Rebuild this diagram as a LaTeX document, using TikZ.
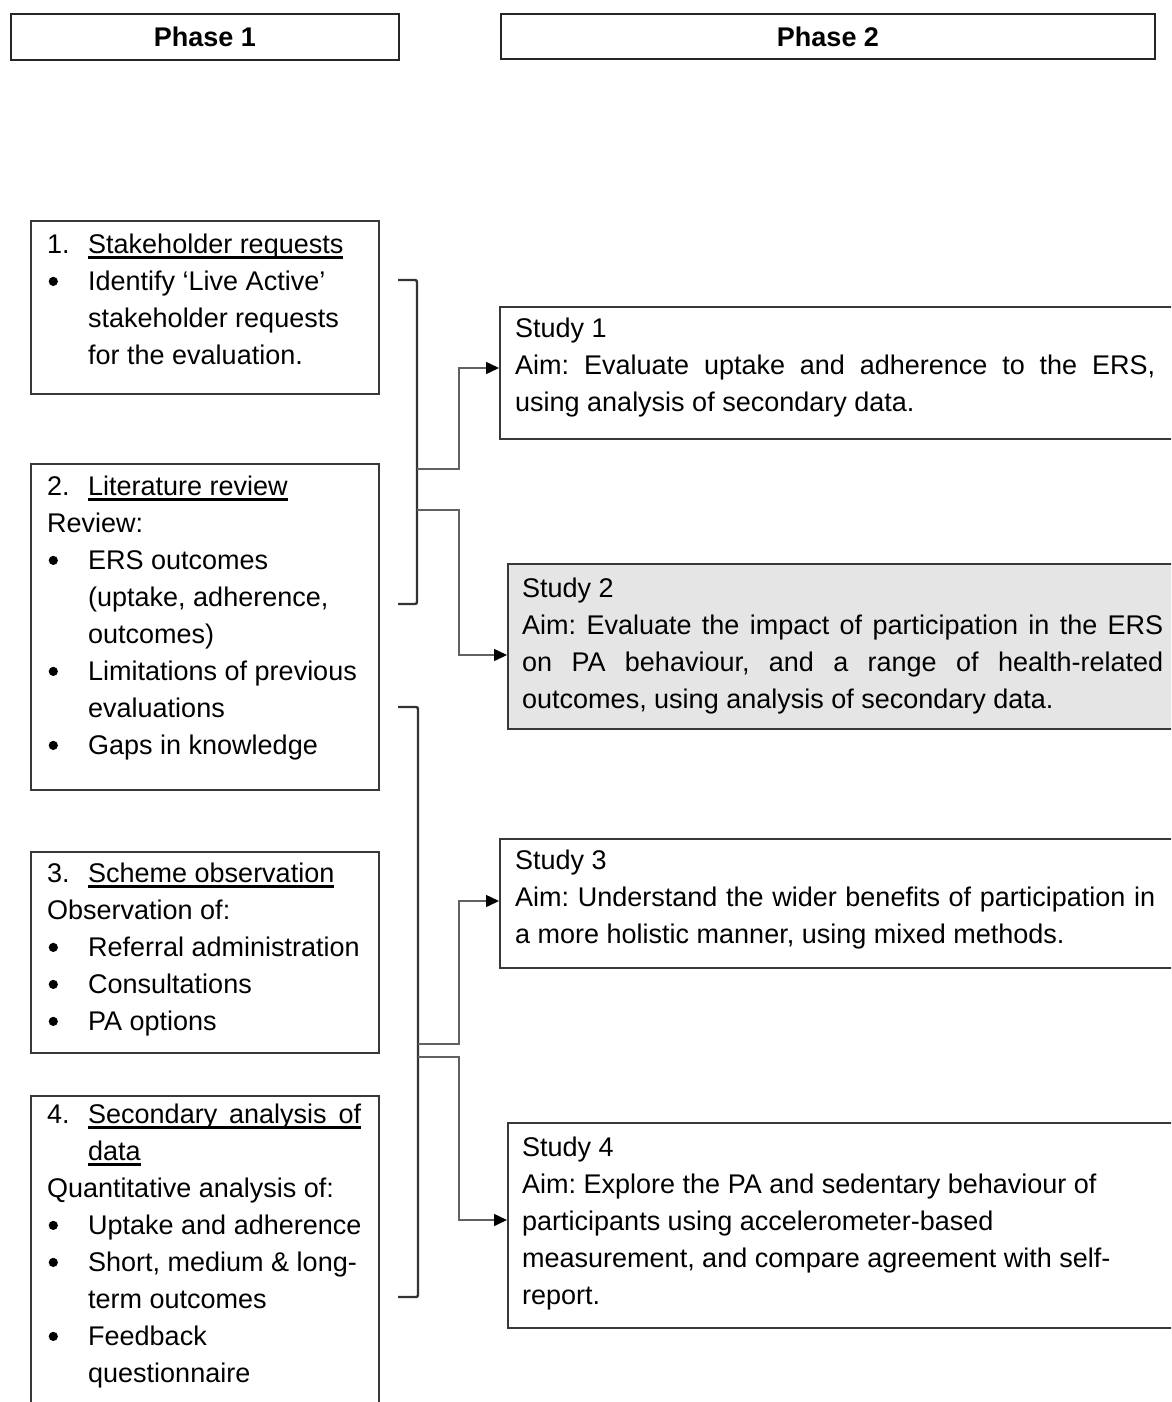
\documentclass[tikz,border=0pt]{standalone}
\usepackage{fontspec}
\setmainfont{Liberation Sans}
\usetikzlibrary{arrows.meta}
\hyphenpenalty=10000
\exhyphenpenalty=10000
\frenchspacing
\newsavebox\ulbox
\newcommand\ulx[1]{\sbox\ulbox{#1}\rlap{\rule[-5.5pt]{\wd\ulbox}{2.4pt}}\usebox\ulbox}
\newcommand\itm[2]{\par\hangindent=41pt\hangafter=1\noindent\makebox[41pt][l]{#1}#2\par}
\newcommand\bul{\hspace*{1.5pt}\raisebox{4pt}{\tikz[x=1pt,y=1pt]\fill (0,0) circle[radius=4.6pt];}}
\begin{document}
\begin{tikzpicture}[x=1pt,y=1pt,
  box/.style={draw=black!78, line width=1.8pt, rectangle, inner sep=0pt, anchor=north west},
  phase/.style={box, draw=black!85, line width=2pt},
  conn/.style={draw=black!62, line width=1.5pt},
  brk/.style={draw=black!80, line width=2.4pt, rounded corners=2pt},
  arr/.style={-{Triangle[length=13pt,width=12pt,color=black]}},
  txt/.style={anchor=base west, inner sep=0pt, font=\fontsize{27}{37}\selectfont},
  ptxt/.style={inner sep=0pt, font=\fontsize{27}{32}\selectfont\bfseries}]
\useasboundingbox (0,0) rectangle (1171,-1402);
\clip (0,0) rectangle (1171,-1402);
\fill[white] (0,0) rectangle (1171,-1402);

% phase headers
\node[phase, minimum width=388pt, minimum height=46pt] (ph1) at (10,-13) {};
\node[phase, minimum width=654pt, minimum height=45pt] (ph2) at (500,-13) {};
\node[ptxt] (ph1t) at (ph1.center) {Phase 1};
\node[ptxt] (ph2t) at (ph2.center) {Phase 2};

% phase 1 boxes
\node[box, minimum width=348pt, minimum height=173pt] (b1) at (30,-220) {};
\node[box, minimum width=348pt, minimum height=326pt] (b2) at (30,-463) {};
\node[box, minimum width=348pt, minimum height=201pt] (b3) at (30,-851) {};
\node[box, minimum width=348pt, minimum height=340pt] (b4) at (30,-1095) {};

\node[txt] (t1) at (47,-253) {\begin{minipage}[t]{325pt}\raggedright
\itm{1.}{\ulx{Stakeholder requests}}
\itm{\bul}{Identify ‘Live Active’\newline stakeholder requests\newline for the evaluation.}
\end{minipage}};

\node[txt] (t2) at (47,-495) {\begin{minipage}[t]{325pt}\raggedright
\itm{2.}{\ulx{Literature review}}
Review:\par
\itm{\bul}{ERS outcomes\newline (uptake, adherence,\newline outcomes)}
\itm{\bul}{Limitations of previous\newline evaluations}
\itm{\bul}{Gaps in knowledge}
\end{minipage}};

\node[txt] (t3) at (47,-882) {\begin{minipage}[t]{325pt}\raggedright
\itm{3.}{\ulx{Scheme observation}}
Observation of:\par
\itm{\bul}{Referral administration}
\itm{\bul}{Consultations}
\itm{\bul}{PA options}
\end{minipage}};

\node[txt] (t4) at (47,-1123) {\begin{minipage}[t]{325pt}\raggedright
\itm{4.}{\ulx{\makebox[273pt][s]{Secondary analysis of}}\newline \ulx{data}}
Quantitative analysis of:\par
\itm{\bul}{Uptake and adherence}
\itm{\bul}{Short, medium \& long-\newline term outcomes}
\itm{\bul}{Feedback\newline questionnaire}
\end{minipage}};

% phase 2 boxes
\node[box, minimum width=700pt, minimum height=132pt] (s1) at (499,-306) {};
\node[box, fill=black!10, minimum width=700pt, minimum height=165pt] (s2) at (507,-563) {};
\node[box, minimum width=700pt, minimum height=129pt] (s3) at (499,-838) {};
\node[box, minimum width=700pt, minimum height=205pt] (s4) at (507,-1122) {};

\node[txt] (u1) at (515,-337) {\begin{minipage}[t]{640pt}
Study 1\newline Aim: Evaluate uptake and adherence to the ERS,\linebreak using analysis of secondary data.
\end{minipage}};

\node[txt] (u2) at (522,-597) {\begin{minipage}[t]{641pt}
Study 2\newline Aim: Evaluate the impact of participation in the ERS\linebreak on PA behaviour, and a range of health-related\linebreak outcomes, using analysis of secondary data.
\end{minipage}};

\node[txt] (u3) at (515,-869) {\begin{minipage}[t]{640pt}
Study 3\newline Aim: Understand the wider benefits of participation in\linebreak a more holistic manner, using mixed methods.
\end{minipage}};

\node[txt] (u4) at (522,-1156) {\begin{minipage}[t]{640pt}\raggedright
Study 4\newline Aim: Explore the PA and sedentary behaviour of\newline participants using accelerometer-based\newline measurement, and compare agreement with self-\newline report.
\end{minipage}};

% brackets
\coordinate (k1t) at (398,-280);
\coordinate (k1b) at (398,-604);
\coordinate (k2t) at (398,-707);
\coordinate (k2b) at (398,-1297);
\draw[brk] (k1t) -- ++(19,0) |- (k1b);
\draw[brk] (k2t) -- ++(20,0) |- (k2b);

% connectors
\coordinate (j1) at (417,-469);
\coordinate (j2) at (417,-510);
\coordinate (j3) at (418,-1044);
\coordinate (j4) at (418,-1057);
\draw[conn,arr] (j1) -- ++(42,0) |- (s1.west |- 0,-368);
\draw[conn,arr] (j2) -- ++(42,0) |- (s2.west |- 0,-655);
\draw[conn,arr] (j3) -- ++(41,0) |- (s3.west |- 0,-901);
\draw[conn,arr] (j4) -- ++(41,0) |- (s4.west |- 0,-1220);
\end{tikzpicture}
\end{document}
